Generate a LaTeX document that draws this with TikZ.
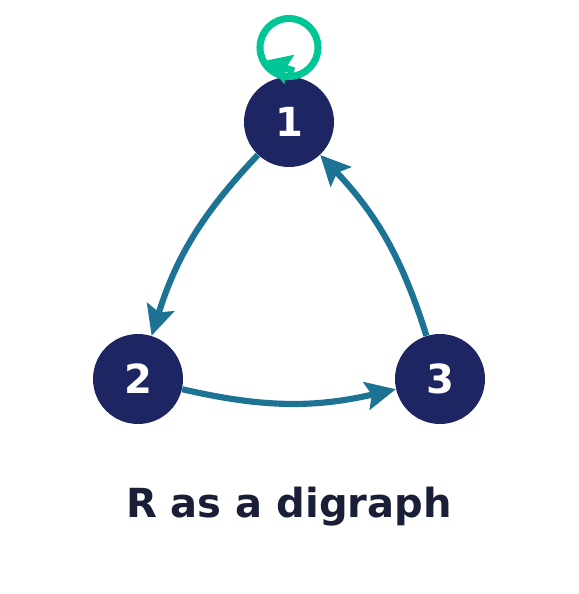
\documentclass[tikz,border=0pt]{standalone}
\usepackage{fontspec}
\setmainfont{DejaVu Sans}
\usetikzlibrary{arrows.meta}
\definecolor{navy}{HTML}{1E2563}
\definecolor{teal}{HTML}{1C7393}
\definecolor{mint}{HTML}{00C594}
\definecolor{ink}{HTML}{1A1F38}

\begin{document}
\begin{tikzpicture}
\tikzset{vert/.style={circle, fill=navy, minimum size=1.8cm, inner sep=0pt,
    text=white, font=\fontsize{22.8}{27}\selectfont\bfseries},
  link/.style={-{Stealth[length=17pt, width=16pt, inset=3pt]}, teal, line width=3.5pt, bend right=13},
  self/.style={mint, line width=4pt}}
\useasboundingbox (0,0) rectangle (11.58,11.88);
% Vertices
\foreach \n/\x/\y in {1/5.78/9.44, 2/2.76/4.30, 3/8.80/4.30}
  \node[vert] (v\n) at (\x,\y) {\n};
% Relation arcs
\foreach \a/\b in {1/2, 2/3, 3/1}
  \draw[link] (v\a) to (v\b);
% Loop on 1
\coordinate (c1) at (5.78,10.93);
\draw[self] (c1) circle (0.58);
\draw[self, -{Stealth[length=15pt, width=17pt, inset=2pt]}] ([shift={(0.1,-0.47)}]c1) -- ([shift={(-0.5,-0.27)}]c1);
% Text
\node[text=ink, font=\fontsize{22.8}{27}\selectfont\bfseries] (title) at (5.78,1.74) {R as a digraph};
\end{tikzpicture}
\end{document}
